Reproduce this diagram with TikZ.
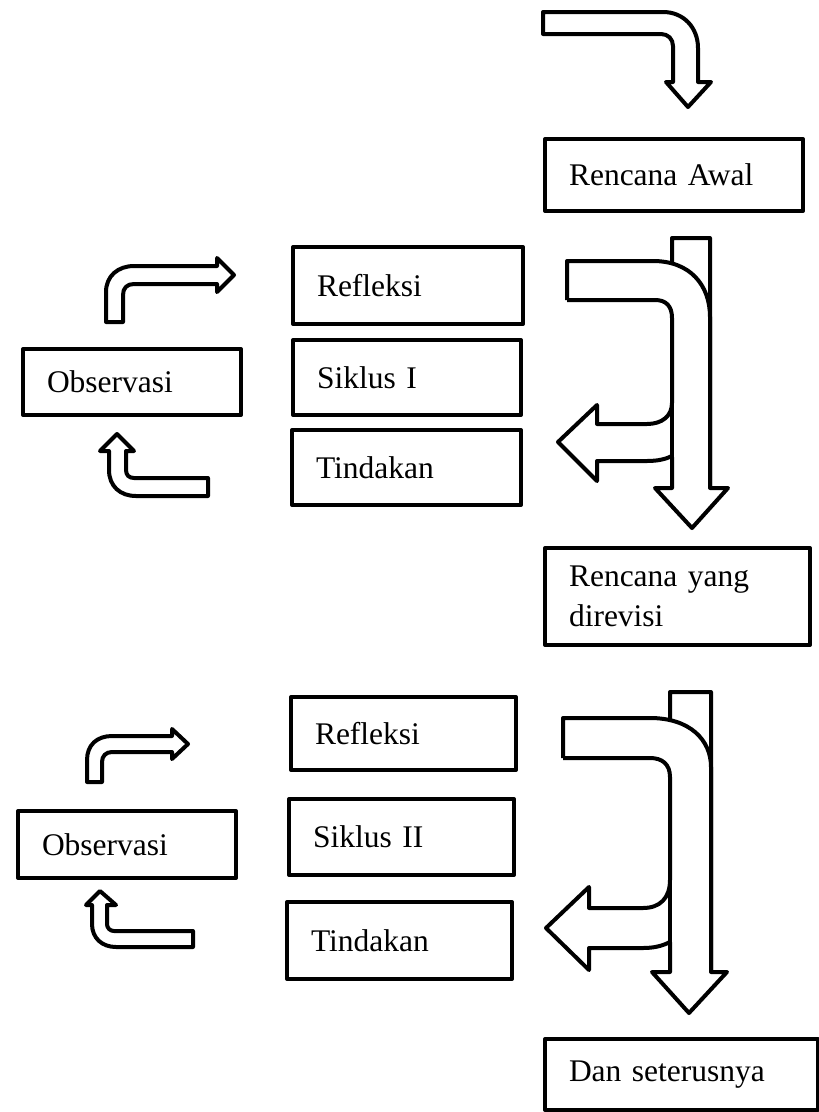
\documentclass[tikz,border=0pt]{standalone}
\usepackage{fontspec}
\setmainfont{Liberation Serif}
\usetikzlibrary{positioning}

\begin{document}
\begin{tikzpicture}[x=1pt, y=-1pt, line join=round,
    every node/.style={font=\fontsize{31.5}{40}\selectfont},
    box/.style={draw, line width=4pt, anchor=north west, inner xsep=24pt, align=left},
    blockarrow/.style={draw, fill=white, line width=4pt}]
    \useasboundingbox (0,0) rectangle (819,1112);
    % boxes
    \node[box, text width=210pt, minimum height=72pt] (awal) at (543,137) {Rencana Awal};
    \node[box, text width=182pt, minimum height=77pt] (reflA) at (291,245) {Refleksi};
    \node[box, text width=180pt, minimum height=75pt] (siklusA) at (291,338) {Siklus I};
    \node[box, text width=181pt, minimum height=75pt] (tindA) at (290,428) {Tindakan};
    \node[box, text width=170pt, minimum height=66pt] (obsA) at (21,347) {Observasi};
    \node[box, text width=217pt, minimum height=97pt] (revisi) at (543,546) {Rencana yang\\direvisi};
    \node[box, text width=177pt, minimum height=73pt] (reflB) at (289,695) {Refleksi};
    \node[box, text width=177pt, minimum height=76pt] (siklusB) at (287,797) {Siklus II};
    \node[box, text width=177pt, minimum height=77pt] (tindB) at (285,900) {Tindakan};
    \node[box, text width=170pt, minimum height=67pt] (obsB) at (16,809) {Observasi};
    \node[box, text width=225pt, minimum height=71pt] (lanjut) at (543,1037) {Dan seterusnya};
    % arrow into the first plan
    \draw[blockarrow] (543,12) -- (663,12) .. controls (684,12) and (698,28) .. (698,48)
        -- (698,82) -- (711,82) -- (688,107) -- (666,82) -- (673,82) -- (673,46)
        .. controls (673,39) and (668,34) .. (661,34) -- (543,34) -- cycle;
    % cycle I: big arrows
    \draw[blockarrow] (672,238) -- (710,238) -- (710,488) -- (728,488) -- (692,528) -- (655,488) -- (672,488) -- cycle;
    \fill[white] (567,261) -- (653,261) .. controls (690,261) and (710,285) .. (710,317) -- (710,457) -- (672,457)
        .. controls (666,459) and (658,461) .. (647,461) -- (597,461) -- (597,481) -- (558,442) -- (597,405) -- (597,424)
        -- (647,424) .. controls (662,424) and (672,416) .. (672,403) -- (672,318)
        .. controls (672,306) and (666,300) .. (655,300) -- (567,300) -- cycle;
    \draw[line width=4pt] (567,300) -- (567,261) -- (653,261) .. controls (690,261) and (710,285) .. (710,317) -- (710,488);
    \draw[line width=4pt] (567,300) -- (655,300) .. controls (666,300) and (672,306) .. (672,318) -- (672,403)
        .. controls (672,416) and (662,424) .. (647,424) -- (597,424) -- (597,405) -- (558,442) -- (597,481)
        -- (597,461) -- (647,461) .. controls (658,461) and (666,459) .. (672,456);
    \draw[line width=4pt] (672,403) -- (672,488);
    % cycle I: small arrows
    \draw[blockarrow] (106,322) -- (106,292) .. controls (106,276) and (118,266) .. (134,266) -- (217,266) -- (217,258)
        -- (234,275) -- (217,292) -- (217,284) -- (134,284) .. controls (127,284) and (123,288) .. (123,295) -- (123,322) -- cycle;
    \draw[blockarrow] (117,434) -- (134,451) -- (126,451) -- (126,470) .. controls (126,475) and (129,478) .. (134,478)
        -- (208,478) -- (208,496) -- (136,496) .. controls (120,496) and (109,486) .. (109,470) -- (109,451) -- (100,451) -- cycle;
    % cycle II: big arrows
    \draw[blockarrow] (670,692) -- (711,692) -- (711,972) -- (727,972) -- (689,1013) -- (652,972) -- (670,972) -- cycle;
    \fill[white] (563,718) -- (650,718) .. controls (690,718) and (711,740) .. (711,767) -- (711,942) -- (670,942)
        .. controls (662,946) and (654,948) .. (643,948) -- (589,948) -- (589,970) -- (546,928) -- (589,887) -- (589,908)
        -- (643,908) .. controls (660,908) and (670,898) .. (670,880) -- (670,777)
        .. controls (670,764) and (662,758) .. (650,758) -- (563,758) -- cycle;
    \draw[line width=4pt] (563,758) -- (563,718) -- (650,718) .. controls (690,718) and (711,740) .. (711,767) -- (711,972);
    \draw[line width=4pt] (563,758) -- (650,758) .. controls (662,758) and (670,764) .. (670,777) -- (670,880)
        .. controls (670,898) and (660,908) .. (643,908) -- (589,908) -- (589,887) -- (546,928) -- (589,970)
        -- (589,948) -- (643,948) .. controls (654,948) and (662,946) .. (670,942);
    \draw[line width=4pt] (670,880) -- (670,972);
    % cycle II: small arrows
    \draw[blockarrow] (87,782) -- (87,760) .. controls (87,745) and (97,736) .. (112,736) -- (172,736) -- (172,729)
        -- (188,744) -- (172,759) -- (172,752) -- (112,752) .. controls (106,752) and (102,756) .. (102,762) -- (102,782) -- cycle;
    \draw[blockarrow] (100,891) -- (116,905) -- (107,905) -- (107,924) .. controls (107,928) and (110,931) .. (114,931)
        -- (193,931) -- (193,947) -- (116,947) .. controls (102,947) and (92,938) .. (92,924) -- (92,905) -- (86,905) -- cycle;
\end{tikzpicture}
\end{document}
